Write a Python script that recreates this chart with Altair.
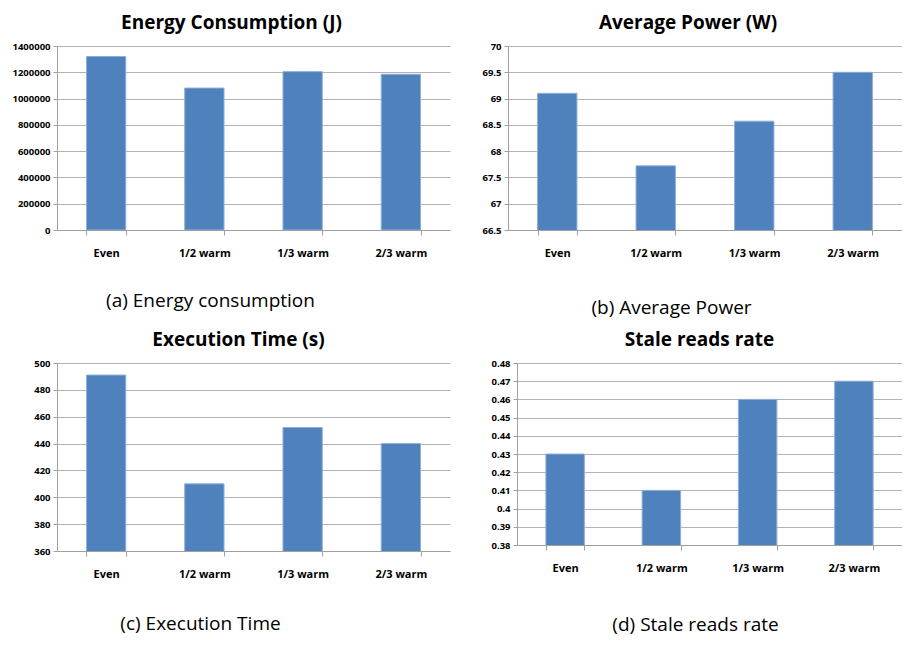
import altair as alt
import pandas as pd

categories = ["Even", "1/2 warm", "1/3 warm", "2/3 warm"]
energy = [1320000, 1080000, 1205000, 1185000]
power = [69.1, 67.72, 68.57, 69.5]
exec_time = [491, 410, 452, 440]
stale = [0.43, 0.41, 0.46, 0.47]

energy_ticks = [0, 200000, 400000, 600000, 800000, 1000000, 1200000, 1400000]
power_ticks = [66.5, 67, 67.5, 68, 68.5, 69, 69.5, 70]
time_ticks = [360, 380, 400, 420, 440, 460, 480, 500]
stale_ticks = [0.38, 0.39, 0.40, 0.41, 0.42, 0.43, 0.44, 0.45, 0.46, 0.47, 0.48]

FONT = "Open Sans"
BAR = "#4F81BD"


def panel(values, title, caption, ticks, width, height, title_dx, cap_x, cap_y, y_extent):
    df = pd.DataFrame({"cat": categories, "v": values})
    return (
        alt.Chart(df, title=alt.TitleParams(title, dx=title_dx))
        .mark_bar(color=BAR, stroke="#8DB0DA", strokeWidth=1, clip=True)
        .encode(
            x=alt.X(
                "cat:N",
                sort=categories,
                scale=alt.Scale(paddingInner=0.6, paddingOuter=0.3),
                axis=alt.Axis(
                    title=caption,
                    labelAngle=0,
                    tickBand="extent",
                    labelPadding=12,
                    labelFontSize=11,
                    tickSize=5,
                    titleX=cap_x,
                    titleY=cap_y,
                    titleAlign="center",
                    titleBaseline="middle",
                    titleFontSize=19,
                    titleFontWeight="normal",
                    titleFont=FONT,
                    titleColor="#000000",
                ),
            ),
            y=alt.Y(
                "v:Q",
                scale=alt.Scale(domain=[ticks[0], ticks[-1]], nice=False, zero=False),
                axis=alt.Axis(
                    title=None,
                    values=ticks,
                    format="~f",
                    tickSize=4,
                    labelPadding=3,
                    labelFontSize=9.5,
                    minExtent=y_extent,
                    maxExtent=y_extent,
                ),
            ),
        )
        .properties(width=width, height=height)
    )


a = panel(energy, "Energy Consumption (J)", "(a) Energy consumption", energy_ticks,
          393, 184, -22, 153, 70, 49)
b = panel(power, "Average Power (W)", "(b) Average Power", power_ticks,
          394, 184, -17, 163, 77, 40)
c = panel(exec_time, "Execution Time (s)", "(c) Execution Time", time_ticks,
          393, 188, -15, 143, 72, 49)
d = panel(stale, "Stale reads rate", "(d) Stale reads rate", stale_ticks,
          385, 182, -10, 178, 79, 40)

chart = (
    alt.vconcat(
        alt.hconcat(a, b, spacing=18),
        alt.hconcat(c, d, spacing=27),
        spacing=14,
    )
    .properties(padding={"top": 6, "left": 0, "right": 0, "bottom": 4}, background="white")
    .configure_view(stroke=None)
    .configure_title(font=FONT, fontSize=19, fontWeight="bold", color="#000000",
                     anchor="middle", offset=8)
    .configure_axis(
        labelFont=FONT,
        labelFontWeight="bold",
        labelColor="#000000",
        domainColor="#A0A0A0",
        tickColor="#A0A0A0",
        gridColor="#B3B3B3",
        gridWidth=1,
    )
    .configure_axisX(grid=False)
)

chart.save("out.html", embed_options={"renderer": "svg", "actions": False})
